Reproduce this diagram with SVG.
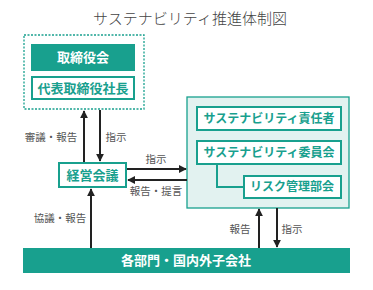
<svg xmlns="http://www.w3.org/2000/svg" width="373" height="290" viewBox="0 0 373 290">
<defs>
<style>
text{font-family:"Noto Sans CJK JP","Noto Sans",sans-serif;text-anchor:middle}
.title{font-size:15px;fill:#444;font-weight:300}
.wb{font-size:13px;font-weight:bold;fill:#fff}
.tb{font-size:13px;font-weight:bold;fill:#18a08e}
.tb12{font-size:12px;font-weight:bold;fill:#18a08e}
.lbl{font-size:10.5px;fill:#555}
.box{fill:#fff;stroke:#18a08e;stroke-width:2}
.fill{fill:#18a08e}
.ln{stroke:#222;stroke-width:2;fill:none}
</style>
<marker id="ah" viewBox="0 0 10 10" refX="9" refY="5" markerWidth="4" markerHeight="4" orient="auto" markerUnits="strokeWidth">
<path d="M0,0 L10,5 L0,10 z" fill="#222"/>
</marker>
</defs>
<rect width="373" height="290" fill="#fff"/>
<text class="title" x="190" y="24">サステナビリティ推進体制図</text>

<g id="board-group">
<rect x="24" y="35" width="120" height="74" fill="#fff" stroke="#18a08e" stroke-width="1.3" stroke-dasharray="2,1.5"/>
</g>
<g id="board">
<rect class="fill" x="31" y="44" width="104" height="27"/>
<text class="wb" x="83" y="62">取締役会</text>
</g>
<g id="president">
<rect class="box" x="32" y="77" width="102" height="22"/>
<text class="tb" x="83" y="93">代表取締役社長</text>
</g>

<g id="sustain-panel">
<rect x="187" y="97" width="162" height="111" fill="#e2f2f0" stroke="#18a08e" stroke-width="1.3"/>
</g>
<g id="officer">
<rect class="box" x="197" y="107" width="144" height="23"/>
<text class="tb12" x="269" y="123">サステナビリティ責任者</text>
</g>
<g id="committee">
<rect class="box" x="197" y="141" width="144" height="23"/>
<text class="tb12" x="269" y="157">サステナビリティ委員会</text>
</g>
<g id="risk">
<rect class="box" x="244" y="176" width="97" height="22"/>
<text class="tb12" x="292" y="191">リスク管理部会</text>
</g>

<g id="mgmt">
<rect class="box" x="59" y="163" width="67" height="24"/>
<text class="tb" x="92.5" y="180">経営会議</text>
</g>

<g id="depts">
<rect class="fill" x="23" y="248" width="327" height="25"/>
<text class="wb" x="186" y="265">各部門・国内外子会社</text>
</g>

<g id="connectors">
<line class="ln" x1="84" y1="162" x2="84" y2="111" marker-end="url(#ah)"/>
<line class="ln" x1="100" y1="110" x2="100" y2="161" marker-end="url(#ah)"/>
<line class="ln" x1="127" y1="169" x2="186" y2="169" marker-end="url(#ah)"/>
<line class="ln" x1="187" y1="180" x2="128" y2="180" marker-end="url(#ah)"/>
<line class="ln" x1="91" y1="248" x2="91" y2="189" marker-end="url(#ah)"/>
<line class="ln" x1="259" y1="248" x2="259" y2="209" marker-end="url(#ah)"/>
<line class="ln" x1="277" y1="208" x2="277" y2="247" marker-end="url(#ah)"/>
<polyline points="217,165 217,187 244,187" fill="none" stroke="#18a08e" stroke-width="2"/>
</g>

<g id="labels">
<text class="lbl" x="51" y="141">審議・報告</text>
<text class="lbl" x="116" y="141">指示</text>
<text class="lbl" x="156" y="163">指示</text>
<text class="lbl" x="156" y="195">報告・提言</text>
<text class="lbl" x="60" y="222">協議・報告</text>
<text class="lbl" x="240" y="233">報告</text>
<text class="lbl" x="292" y="233">指示</text>
</g>
</svg>
